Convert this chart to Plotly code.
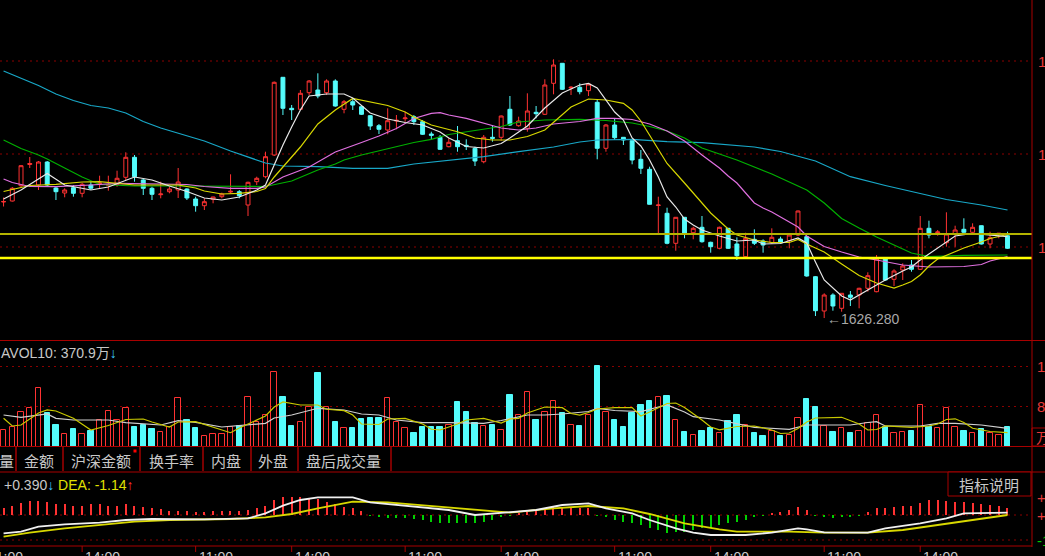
import plotly.graph_objects as go

# ---------------- data ----------------
OPEN = [1684.30, 1684.80, 1692.45, 1703.05, 1692.80, 1704.30, 1691.30, 1688.80, 1691.45, 1688.65,
        1692.80, 1693.45, 1692.65, 1693.15, 1696.65, 1706.65, 1695.30, 1691.15, 1687.95, 1689.45,
        1690.30, 1690.80, 1685.80, 1682.45, 1685.65, 1686.95, 1689.30, 1689.45, 1682.80, 1694.45,
        1696.95, 1707.80, 1746.65, 1731.15, 1730.65, 1738.95, 1740.30, 1738.95, 1744.80, 1730.65,
        1734.45, 1731.95, 1727.45, 1722.45, 1720.30, 1724.80, 1725.95, 1726.95, 1724.45, 1718.30,
        1716.65, 1711.95, 1714.95, 1712.65, 1711.15, 1704.45, 1716.65, 1716.65, 1730.65, 1722.45,
        1721.15, 1729.15, 1728.15, 1743.65, 1753.65, 1741.30, 1741.65, 1739.95, 1734.15, 1711.15,
        1722.80, 1716.65, 1714.95, 1705.65, 1700.65, 1682.55, 1678.65, 1663.65, 1676.65, 1668.95,
        1671.65, 1664.15, 1661.15, 1671.15, 1663.30, 1656.95, 1665.65, 1664.80, 1663.95, 1665.80,
        1664.95, 1667.80, 1666.95, 1646.95, 1629.80, 1637.80, 1631.15, 1637.80, 1637.80, 1641.15,
        1639.45, 1655.80, 1645.65, 1650.30, 1652.80, 1650.65, 1671.15, 1668.95, 1663.95, 1668.30,
        1670.65, 1669.15, 1672.45, 1663.30, 1668.30, 1667.45]
HIGH = [1686.55, 1691.80, 1702.80, 1706.80, 1704.80, 1704.80, 1691.80, 1691.15, 1692.80, 1693.95,
        1694.45, 1697.45, 1697.45, 1699.95, 1709.15, 1707.80, 1695.80, 1691.95, 1694.45, 1691.95,
        1701.30, 1691.15, 1686.95, 1686.15, 1686.95, 1688.95, 1698.15, 1690.30, 1694.45, 1696.95,
        1709.45, 1744.55, 1746.80, 1732.80, 1740.30, 1745.30, 1748.65, 1745.65, 1745.65, 1735.30,
        1736.15, 1732.15, 1727.80, 1723.30, 1731.15, 1727.80, 1729.45, 1727.80, 1725.30, 1719.45,
        1717.80, 1716.15, 1722.30, 1715.65, 1711.95, 1717.80, 1722.80, 1727.55, 1737.30, 1726.95,
        1738.65, 1732.30, 1745.65, 1755.65, 1753.80, 1742.30, 1743.65, 1743.65, 1735.30, 1723.30,
        1726.15, 1716.80, 1715.05, 1710.30, 1701.95, 1686.95, 1681.45, 1676.80, 1676.80, 1671.95,
        1677.30, 1664.45, 1671.95, 1671.30, 1666.65, 1668.95, 1670.65, 1665.65, 1671.15, 1666.95,
        1668.65, 1680.05, 1667.30, 1647.30, 1638.65, 1638.65, 1638.80, 1639.80, 1641.45, 1649.15,
        1657.80, 1656.05, 1650.65, 1653.65, 1655.30, 1677.30, 1674.95, 1670.30, 1679.15, 1672.45,
        1676.15, 1673.65, 1672.55, 1669.45, 1668.80, 1669.45]
LOW = [1682.05, 1684.55, 1691.80, 1701.30, 1690.30, 1692.30, 1685.30, 1686.65, 1686.95, 1686.65,
       1690.30, 1691.15, 1689.95, 1691.95, 1695.30, 1694.45, 1687.80, 1685.30, 1686.15, 1688.65,
       1686.30, 1685.30, 1679.45, 1680.30, 1683.65, 1686.15, 1688.65, 1686.15, 1677.30, 1692.80,
       1696.15, 1707.30, 1727.80, 1725.30, 1730.30, 1737.80, 1736.15, 1737.80, 1731.95, 1728.65,
       1730.30, 1727.80, 1720.30, 1718.30, 1718.15, 1720.65, 1724.45, 1722.80, 1717.80, 1715.30,
       1710.30, 1711.65, 1709.45, 1710.30, 1702.30, 1703.65, 1714.45, 1714.95, 1722.30, 1721.95,
       1719.45, 1726.15, 1727.80, 1738.15, 1740.30, 1737.80, 1738.15, 1737.30, 1705.65, 1709.45,
       1715.30, 1712.80, 1703.15, 1698.30, 1683.05, 1668.65, 1663.15, 1659.95, 1666.15, 1665.65,
       1663.95, 1658.95, 1660.65, 1660.80, 1655.30, 1656.65, 1662.80, 1658.95, 1663.30, 1663.65,
       1661.15, 1667.30, 1646.95, 1627.30, 1626.28, 1629.95, 1629.45, 1632.30, 1631.15, 1639.45,
       1639.15, 1644.95, 1642.30, 1645.30, 1649.45, 1650.30, 1666.15, 1667.45, 1661.95, 1661.95,
       1668.65, 1668.30, 1663.05, 1661.15, 1666.15, 1660.80]
CLOSE = [1684.55, 1691.15, 1702.45, 1703.55, 1704.30, 1692.80, 1689.45, 1690.30, 1688.65, 1693.15,
         1691.15, 1693.80, 1692.95, 1696.15, 1706.65, 1696.95, 1691.15, 1688.15, 1688.30, 1690.80,
         1694.30, 1686.30, 1682.45, 1684.45, 1686.80, 1688.30, 1689.65, 1687.45, 1694.15, 1696.15,
         1706.95, 1744.15, 1731.15, 1730.45, 1738.65, 1744.80, 1737.30, 1744.80, 1732.30, 1734.45,
         1732.80, 1728.15, 1722.30, 1720.65, 1724.95, 1725.15, 1726.30, 1724.45, 1718.15, 1717.65,
         1710.65, 1714.15, 1711.95, 1712.15, 1704.80, 1716.65, 1716.15, 1727.30, 1722.80, 1724.80,
         1729.80, 1728.45, 1742.80, 1752.80, 1740.65, 1741.65, 1739.45, 1743.30, 1711.15, 1722.80,
         1716.45, 1715.30, 1705.30, 1701.15, 1683.15, 1682.80, 1663.65, 1676.65, 1668.65, 1671.15,
         1664.45, 1661.95, 1671.65, 1661.15, 1657.45, 1666.15, 1663.65, 1662.80, 1666.65, 1663.95,
         1667.80, 1679.80, 1647.30, 1629.95, 1637.80, 1632.30, 1638.65, 1636.65, 1641.15, 1647.45,
         1655.80, 1645.30, 1649.80, 1652.30, 1650.65, 1671.15, 1667.80, 1669.30, 1668.30, 1670.30,
         1669.15, 1671.65, 1663.30, 1666.45, 1668.65, 1661.15]
VOLUME = [351, 408, 740, 812, 1237, 706, 457, 266, 366, 266,
          336, 563, 754, 563, 812, 421, 457, 366, 315, 408,
          1024, 563, 387, 223, 266, 266, 421, 436, 1046, 527,
          669, 1577, 1046, 436, 527, 846, 1556, 846, 527, 387,
          387, 578, 599, 599, 1024, 527, 387, 281, 408, 408,
          408, 457, 952, 740, 493, 436, 457, 351, 1094, 669,
          1165, 563, 740, 967, 718, 457, 436, 669, 1711, 727,
          563, 408, 718, 882, 967, 1046, 1073, 563, 302, 244,
          329, 387, 293, 548, 669, 457, 281, 223, 336, 223,
          244, 599, 1003, 833, 436, 302, 387, 281, 336, 506,
          669, 408, 281, 302, 336, 882, 408, 387, 812, 408,
          336, 281, 366, 281, 244, 408]
MACD_HIST = [3.3, 4.7, 5.8, 7.0, 7.0, 6.3, 5.3, 5.3, 4.7, 4.7,
             5.3, 5.3, 4.7, 4.7, 5.3, 4.7, 3.8, 3.3, 2.8, 2.0,
             2.0, 2.0, 1.7, 1.7, 2.0, 2.0, 2.0, 2.0, 2.5, 3.3,
             4.7, 7.5, 9.2, 9.2, 9.2, 8.3, 8.0, 6.7, 5.3, 4.2,
             3.3, 2.0, -0.5, -0.8, -1.7, -1.7, -1.7, -2.2, -2.5, -3.3,
             -3.8, -3.8, -3.8, -3.8, -4.2, -3.3, -2.5, -0.8, -0.3, 0.8,
             1.7, 2.5, 3.0, 4.2, 4.2, 4.2, 3.3, 3.3, -0.5, -0.8,
             -2.5, -3.3, -4.2, -5.0, -6.7, -7.5, -9.2, -8.3, -8.3, -7.5,
             -6.7, -6.7, -5.0, -4.2, -3.3, -2.5, -0.8, -0.3, 1.2, 1.7,
             2.5, 3.8, 2.5, -0.5, -0.8, -1.7, -1.2, -0.8, -0.3, 1.7,
             3.3, 3.3, 4.2, 4.5, 4.7, 6.2, 7.5, 7.5, 7.0, 6.7,
             6.3, 6.2, 5.5, 5.0, 4.5, 3.3]

# moving averages (bar index, value)
MA5_X = [0, 2, 5, 7, 10, 12, 15, 17, 19, 21, 23, 25, 27, 29, 30, 31, 32, 33, 34, 35, 37, 39, 40, 42, 44, 46, 48, 50, 51, 53,
         55, 57, 58, 60, 62, 64, 66, 67, 68, 70, 71, 72, 73, 74, 75, 76, 77, 78, 79, 80, 82, 84, 86, 87, 89, 91, 92, 93, 94, 96,
         97, 99, 101, 103, 104, 105, 107, 109, 111, 113, 115]
MA5 = [1685.8, 1690.3, 1698.55, 1692.8, 1690.3, 1691.8, 1696.8, 1695.3, 1692.3, 1689.55, 1686.3, 1685.3, 1686.8, 1690.3,
       1692.8, 1702.8, 1712.8, 1721.8, 1730.3, 1737.3, 1738.3, 1738.3, 1736.3, 1728.8, 1725.8, 1724.05, 1722.8, 1719.3,
       1716.3, 1712.05, 1711.3, 1713.55, 1716.3, 1722.3, 1731.3, 1738.8, 1742.8, 1743.55, 1741.3, 1729.3, 1725.3, 1716.3,
       1712.3, 1705.3, 1696.8, 1686.8, 1681.8, 1675.8, 1672.8, 1670.3, 1667.3, 1664.8, 1665.3, 1663.3, 1663.55, 1666.3,
       1663.8, 1654.3, 1645.3, 1637.3, 1635.3, 1640.3, 1645.3, 1649.8, 1651.8, 1655.3, 1661.3, 1667.3, 1668.55, 1667.8,
       1666.95]
MA10_X = [0, 1, 3, 6, 9, 11, 13, 15, 20, 22, 23, 25, 27, 29, 30, 31, 32, 34, 36, 37, 38, 40, 42, 44, 46, 47, 49, 51, 52, 54,
          56, 58, 60, 62, 63, 65, 67, 69, 71, 72, 73, 74, 75, 76, 78, 80, 81, 83, 84, 86, 88, 90, 91, 92, 94, 96, 98, 100, 102,
          103, 104, 105, 106, 107, 109, 110, 112, 113, 115]
MA10 = [1689.55, 1690.55, 1692.55, 1693.15, 1694.3, 1694.45, 1693.65, 1692.8, 1692.8, 1691.3, 1689.8, 1688.3, 1688.65,
        1689.55, 1691.05, 1696.8, 1701.8, 1711.8, 1723.3, 1726.8, 1730.3, 1736.05, 1734.3, 1732.55, 1729.3, 1726.8, 1722.8,
        1720.55, 1719.45, 1716.3, 1715.3, 1715.3, 1717.05, 1720.3, 1724.3, 1731.8, 1735.8, 1735.3, 1733.65, 1730.3, 1724.8,
        1717.8, 1710.3, 1703.55, 1693.8, 1683.8, 1678.8, 1670.8, 1667.8, 1665.3, 1664.05, 1664.05, 1665.55, 1663.3, 1659.3,
        1653.3, 1647.55, 1643.8, 1641.3, 1642.8, 1644.55, 1647.8, 1652.3, 1655.8, 1659.3, 1661.3, 1664.3, 1666.05, 1668.05]
MA20_X = [0, 1, 3, 6, 10, 13, 18, 21, 23, 26, 29, 30, 32, 35, 38, 39, 41, 43, 45, 47, 49, 50, 51, 53, 55, 57, 59, 61, 63, 66,
          68, 70, 72, 74, 76, 78, 80, 82, 83, 84, 86, 87, 88, 90, 91, 92, 94, 96, 98, 100, 103, 106, 110, 112, 113, 115]
MA20 = [1695.8, 1694.05, 1692.05, 1691.95, 1692.8, 1693.65, 1693.3, 1693.05, 1692.05, 1691.15, 1691.15, 1691.8, 1696.8,
        1701.8, 1709.3, 1710.8, 1714.05, 1717.3, 1721.05, 1726.05, 1728.65, 1728.95, 1727.8, 1726.15, 1723.65, 1721.3,
        1720.3, 1721.3, 1723.3, 1724.55, 1726.15, 1726.15, 1725.55, 1723.3, 1719.8, 1714.8, 1707.8, 1701.3, 1697.3, 1693.8,
        1683.8, 1681.3, 1679.3, 1674.3, 1671.8, 1667.3, 1662.05, 1659.3, 1656.8, 1655.3, 1652.8, 1651.8, 1652.05, 1653.05,
        1654.8, 1656.95]
MA30_X = [0, 2, 4, 5, 7, 9, 11, 15, 20, 25, 30, 33, 36, 38, 39, 41, 44, 47, 49, 51, 54, 57, 59, 62, 66, 69, 72, 74, 76, 78,
          80, 84, 88, 90, 92, 94, 96, 98, 100, 102, 104, 106, 110, 115]
MA30 = [1715.3, 1711.05, 1707.8, 1705.8, 1701.3, 1696.8, 1693.05, 1692.3, 1692.3, 1692.05, 1692.05, 1694.8, 1700.3, 1703.3,
        1705.3, 1707.8, 1710.8, 1714.05, 1715.65, 1718.05, 1720.05, 1722.05, 1724.3, 1725.3, 1725.65, 1725.05, 1723.8,
        1722.05, 1719.8, 1716.3, 1711.3, 1705.3, 1698.3, 1694.3, 1690.3, 1683.8, 1676.05, 1671.3, 1666.8, 1662.8, 1658.8,
        1657.0, 1657.65, 1657.8]
MA60_X = [0, 2, 4, 6, 8, 10, 12, 14, 16, 18, 20, 23, 26, 28, 30, 32, 36, 40, 44, 47, 51, 55, 59, 63, 66, 68, 72, 76, 80, 86,
          89, 93, 97, 101, 105, 108, 112, 115]
MA60 = [1749.8, 1746.05, 1742.55, 1738.3, 1735.05, 1732.55, 1731.3, 1728.8, 1724.55, 1721.3, 1718.55, 1714.8, 1709.8,
        1706.95, 1703.8, 1702.3, 1701.95, 1701.15, 1701.15, 1703.3, 1705.3, 1706.95, 1709.45, 1711.8, 1714.3, 1715.3,
        1715.65, 1714.45, 1713.95, 1711.8, 1709.55, 1704.8, 1696.95, 1692.55, 1688.55, 1685.55, 1682.8, 1680.3]
VMA5_X = [0, 1, 2, 4, 5, 6, 8, 10, 12, 14, 16, 17, 19, 20, 22, 24, 26, 27, 29, 30, 31, 32, 34, 36, 37, 39, 40, 41, 43, 44,
          46, 48, 49, 50, 52, 53, 55, 57, 58, 59, 60, 62, 64, 65, 66, 67, 68, 70, 72, 73, 74, 76, 77, 78, 80, 81, 82, 84, 86,
          88, 89, 90, 91, 92, 93, 96, 98, 99, 100, 101, 104, 106, 107, 108, 109, 110, 111, 113, 115]
VMA5 = [599, 436, 457, 712, 776, 754, 599, 351, 446, 574, 584, 521, 414, 521, 527, 414, 293, 393, 553, 648,
        839, 946, 882, 882, 791, 761, 669, 478, 468, 584, 599, 478, 366, 351, 478, 563, 599, 499, 584, 599,
        712, 839, 825, 701, 669, 723, 797, 825, 825, 648, 733, 914, 924, 829, 563, 414, 355, 425, 436, 351,
        276, 287, 383, 521, 606, 621, 478, 351, 361, 436, 408, 436, 478, 574, 589, 510, 387, 319, 293]
VMA10_X = [0, 2, 5, 6, 8, 12, 14, 18, 20, 22, 25, 28, 30, 31, 33, 36, 39, 41, 43, 45, 48, 51, 54, 55, 57, 60, 62, 64, 67,
           68, 70, 73, 75, 76, 78, 79, 82, 86, 90, 91, 92, 95, 97, 99, 100, 101, 105, 107, 109, 112, 113, 115]
VMA10 = [669, 621, 691, 599, 563, 563, 506, 457, 548, 514, 414, 457, 493, 606, 669, 812, 776, 691, 669, 563,
         506, 506, 499, 493, 553, 669, 669, 691, 744, 808, 765, 740, 839, 882, 733, 633, 563, 408, 366, 414,
         457, 457, 457, 510, 527, 436, 436, 493, 493, 457, 436, 387]
DIFF_X = [0, 2, 4, 7, 11, 14, 17, 23, 28, 30, 32, 34, 36, 40, 42, 45, 48, 51, 54, 56, 58, 61, 64, 67, 69, 72, 74, 77, 79,
          81, 85, 88, 91, 92, 94, 99, 101, 105, 108, 110, 115]
DIFF = [-9.2, -8.3, -5.8, -4.7, -3.8, -2.5, -2.0, -2.2, -1.7, 0.8, 4.7, 7.5, 8.8, 8.8, 6.3, 5.0, 3.7, 2.5, 0.0, 0.8,
        1.3, 2.5, 5.0, 5.8, 3.3, 0.8, -2.5, -6.7, -8.8, -10.0, -10.0, -8.8, -6.7, -7.2, -8.7, -8.8, -6.7, -4.2, -1.7, 0.8,
        1.2]
DEA_X = [0, 3, 7, 11, 15, 19, 26, 30, 33, 36, 40, 44, 49, 53, 58, 63, 67, 71, 74, 78, 82, 84, 90, 94, 99, 103, 107, 111, 115]
DEA = [-10.8, -8.8, -6.7, -5.0, -3.3, -2.5, -2.0, -1.2, 0.5, 3.3, 6.7, 6.3, 4.5, 2.8, 1.2, 3.3, 4.5, 3.3, 0.5, -4.2,
       -7.2, -8.3, -8.3, -8.8, -8.8, -7.5, -5.0, -2.2, 0.0]

LEVELS = [1668.3, 1656.3]              # two horizontal reference lines
PRICE_GRID = [1754.80, 1708.30, 1661.80]
VOL_GRID = [1700, 850]
MACD_GRID = [0.0, -12.5]
MACD_LABELS = [9.0, 0.0, -12.5]
TICK_POS = [-2, 9, 22, 33, 46, 57, 70, 81, 94, 105]
TICK_TEXT = ["11:00", "14:00", "11:00", "14:00", "11:00", "14:00", "11:00", "14:00", "11:00", "14:00"]
LOW_VALUE = 1626.28
LOW_INDEX = 94
TABS = ["量", "金额", "沪深金额", "换手率", "内盘", "外盘", "盘后成交量"]
TAB_CENTERS = [6, 39, 101, 171, 226, 273, 343]
TAB_DIVIDERS = [16, 63, 140, 203, 251, 298, 391]

# ---------------- styling / layout ----------------
W, H = 1045, 556
BAR_PX = 8.73
X0 = -3.57 / BAR_PX
X1 = X0 + W / BAR_PX
RED = "#ff3232"
CYAN = "#54fcfc"
GREEN = "#00d000"
GRID = "#8c0000"
BORDER = "#a80000"
AXRED = "#e83838"
TEXT = "#c8c8c8"
FONT = "Liberation Sans, Arial, Noto Sans CJK SC"
CJK = "Noto Sans CJK SC, Liberation Sans"
RIGHT = 1032
DOT = "2px,4px"


def fx(p):
    return p / W


def fy(p):
    return 1 - p / H


idx = list(range(len(OPEN)))
up = [c >= o for o, c in zip(OPEN, CLOSE)]

fig = go.Figure()
fig.add_trace(go.Candlestick(
    x=idx, open=OPEN, high=HIGH, low=LOW, close=CLOSE, xaxis="x", yaxis="y",
    increasing=dict(line=dict(color=RED, width=1), fillcolor="rgba(0,0,0,0)"),
    decreasing=dict(line=dict(color=CYAN, width=1), fillcolor=CYAN),
    whiskerwidth=0, hoverinfo="skip"))

for xs, ys, col, w in [(MA60_X, MA60, "#18a8c8", 1.2), (MA30_X, MA30, "#00b000", 1.2),
                       (MA20_X, MA20, "#e070e0", 1.2), (MA10_X, MA10, "#d8d800", 1.2),
                       (MA5_X, MA5, "#e8e8e8", 1.2)]:
    fig.add_trace(go.Scatter(x=xs, y=ys, mode="lines", line=dict(color=col, width=w),
                             xaxis="x", yaxis="y", hoverinfo="skip"))

fig.add_trace(go.Bar(
    x=idx, y=VOLUME, xaxis="x2", yaxis="y2", width=0.62,
    marker=dict(color=["rgba(0,0,0,0)" if u else CYAN for u in up],
                line=dict(color=[RED if u else CYAN for u in up], width=1)),
    hoverinfo="skip"))
for xs, ys, col in [(VMA10_X, VMA10, "#d0d0d0"), (VMA5_X, VMA5, "#c8c800")]:
    fig.add_trace(go.Scatter(x=xs, y=ys, mode="lines", line=dict(color=col, width=1.2),
                             xaxis="x2", yaxis="y2", hoverinfo="skip"))

fig.add_trace(go.Bar(
    x=idx, y=MACD_HIST, xaxis="x3", yaxis="y3", width=0.13,
    marker=dict(color=[RED if v >= 0 else GREEN for v in MACD_HIST], line=dict(width=0)),
    hoverinfo="skip"))
fig.add_trace(go.Scatter(x=DEA_X, y=DEA, mode="lines", line=dict(color="#d8d800", width=1.8),
                         xaxis="x3", yaxis="y3", hoverinfo="skip"))
fig.add_trace(go.Scatter(x=DIFF_X, y=DIFF, mode="lines", line=dict(color="#f0f0f0", width=1.8),
                         xaxis="x3", yaxis="y3", hoverinfo="skip"))

shapes = []
# dotted grids
for v in PRICE_GRID:
    shapes.append(dict(type="line", xref="paper", yref="y", x0=0, x1=fx(RIGHT), y0=v, y1=v,
                       line=dict(color=GRID, width=1, dash=DOT), layer="below"))
for v in VOL_GRID:
    shapes.append(dict(type="line", xref="paper", yref="y2", x0=0, x1=fx(RIGHT), y0=v, y1=v,
                       line=dict(color=GRID, width=1, dash=DOT), layer="below"))
for v in MACD_GRID:
    shapes.append(dict(type="line", xref="paper", yref="y3", x0=0, x1=fx(RIGHT), y0=v, y1=v,
                       line=dict(color=GRID, width=1, dash=DOT), layer="below"))
# yellow level lines
shapes.append(dict(type="line", xref="paper", yref="y", x0=0, x1=fx(RIGHT), y0=LEVELS[0], y1=LEVELS[0],
                   line=dict(color="#b4b400", width=2)))
shapes.append(dict(type="line", xref="paper", yref="y", x0=0, x1=fx(RIGHT), y0=LEVELS[1], y1=LEVELS[1],
                   line=dict(color="#ffff00", width=2.6)))
# borders
for yp, xe in [(340.5, W), (446.5, W), (472, W), (546, RIGHT)]:
    shapes.append(dict(type="line", xref="paper", yref="paper", x0=0, x1=fx(xe), y0=fy(yp), y1=fy(yp),
                       line=dict(color=BORDER, width=1)))
shapes.append(dict(type="line", xref="paper", yref="paper", x0=fx(RIGHT), x1=fx(RIGHT), y0=fy(547), y1=1,
                   line=dict(color=BORDER, width=1)))
# tab dividers
for xd in TAB_DIVIDERS:
    shapes.append(dict(type="line", xref="paper", yref="paper", x0=fx(xd), x1=fx(xd), y0=fy(447), y1=fy(471),
                       line=dict(color="#7a0000", width=2)))
shapes.append(dict(type="rect", xref="paper", yref="paper", x0=fx(133.5), x1=fx(136.5), y0=fy(452.5),
                   y1=fy(449.5), line=dict(width=0), fillcolor="#ff0000"))
# 指标说明 button and 万 box
shapes.append(dict(type="rect", xref="paper", yref="paper", x0=fx(948), x1=fx(1031), y0=fy(496), y1=fy(472),
                   line=dict(color=BORDER, width=1), fillcolor="black"))
shapes.append(dict(type="rect", xref="paper", yref="paper", x0=fx(1032), x1=fx(1052), y0=fy(446), y1=fy(428),
                   line=dict(color=BORDER, width=1)))
# time ticks
for t in TICK_POS:
    xp = 3.57 + BAR_PX * t
    shapes.append(dict(type="line", xref="paper", yref="paper", x0=fx(xp), x1=fx(xp), y0=fy(546), y1=fy(552),
                       line=dict(color=BORDER, width=1)))

ann = []
for v in PRICE_GRID:
    ann.append(dict(x=fx(1036), xref="paper", y=v, yref="y", text=f"{v:.2f}", xanchor="left",
                    yanchor="middle", showarrow=False, font=dict(size=15, color=AXRED, family=FONT)))
for v in VOL_GRID:
    ann.append(dict(x=fx(1035), xref="paper", y=v, yref="y2", text=str(v), xanchor="left",
                    yanchor="middle", showarrow=False, font=dict(size=15, color=AXRED, family=FONT)))
ann.append(dict(x=fx(1034), xref="paper", y=fy(437), yref="paper", text="万", xanchor="left",
                yanchor="middle", showarrow=False, font=dict(size=14, color=AXRED, family=CJK)))
for v in MACD_LABELS:
    ann.append(dict(x=fx(1035), xref="paper", y=v, yref="y3", text=f"{v:+.2f}" if v != -12.5 else "-12.5",
                    xanchor="left", yanchor="middle", showarrow=False,
                    font=dict(size=15, color=AXRED if v >= 0 else GREEN, family=FONT)))
for t, s in zip(TICK_POS, TICK_TEXT):
    ann.append(dict(x=fx(3.57 + BAR_PX * t + 1), xref="paper", y=fy(546.5), yref="paper", text=s,
                    xanchor="left", yanchor="top", showarrow=False,
                    font=dict(size=14, color=TEXT, family=FONT)))
ann.append(dict(x=LOW_INDEX, xref="x", y=LOW_VALUE, yref="y", text="←" + f"{LOW_VALUE:.3f}",
                xanchor="left", yanchor="middle", xshift=1, yshift=-1, showarrow=False,
                font=dict(size=14, color="#a8a8a8", family=FONT)))
ann.append(dict(x=fx(-1), xref="paper", y=fy(353), yref="paper",
                text="AVOL10: 370.9万<span style='color:#3cc8ff'>↓</span>", xanchor="left",
                yanchor="middle", showarrow=False, font=dict(size=14, color=TEXT, family=FONT)))
ann.append(dict(x=fx(2), xref="paper", y=fy(485), yref="paper",
                text="+0.390<span style='color:#3cc8ff'>↓</span> <span style='color:#e0e000'>DEA: -1.14</span>"
                     "<span style='color:#ff3030'>↑</span>",
                xanchor="left", yanchor="middle", showarrow=False, font=dict(size=14, color=TEXT, family=FONT)))
for t, c in zip(TABS, TAB_CENTERS):
    ann.append(dict(x=fx(c), xref="paper", y=fy(460), yref="paper", text=t, xanchor="center",
                    yanchor="middle", showarrow=False, font=dict(size=15, color=TEXT, family=CJK)))
ann.append(dict(x=fx(989), xref="paper", y=fy(484), yref="paper", text="指标说明", xanchor="center",
                yanchor="middle", showarrow=False, font=dict(size=15, color=TEXT, family=CJK)))

ax_common = dict(range=[X0, X1], visible=False, showgrid=False, zeroline=False, fixedrange=True, domain=[0, 1])
fig.update_layout(
    width=W, height=H, margin=dict(l=0, r=0, t=0, b=0),
    paper_bgcolor="black", plot_bgcolor="black", showlegend=False,
    boxgap=0.36, bargap=0, barmode="overlay",
    xaxis=dict(anchor="y", rangeslider=dict(visible=False), **ax_common),
    xaxis2=dict(anchor="y2", **ax_common),
    xaxis3=dict(anchor="y3", **ax_common),
    yaxis=dict(domain=[fy(340), fy(0)], range=[1615.3, 1785.3], visible=False, showgrid=False,
               zeroline=False, fixedrange=True),
    yaxis2=dict(domain=[fy(446.5), fy(341)], range=[0, (446.5 - 341) * 21.25], visible=False,
                showgrid=False, zeroline=False, fixedrange=True),
    yaxis3=dict(domain=[fy(546), fy(472)], range=[-15.5, 21.5], visible=False, showgrid=False,
                zeroline=False, fixedrange=True),
    shapes=shapes, annotations=ann,
)

fig.write_html("out.html", config={"displayModeBar": False},
               post_script="document.body.style.margin='0';document.body.style.background='black';")
